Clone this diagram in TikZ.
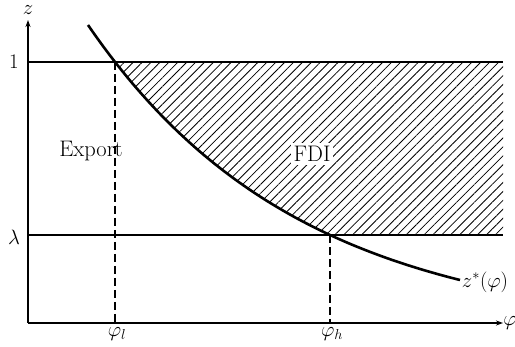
\documentclass[tikz,border=0pt]{standalone}
\usetikzlibrary{arrows.meta,patterns.meta}
\begin{document}
\begin{tikzpicture}[x=1pt,y=-1pt,
  lbl/.style={font=\fontsize{22.5}{27}\selectfont, inner sep=1pt},
  axisline/.style={line width=1.3pt,-{Stealth[length=7pt,width=5pt]}},
  levelline/.style={line width=1.8pt},
  dropline/.style={line width=2.4pt, dash pattern=on 8pt off 4pt},
  curveline/.style={line width=2.6pt}]
\def\zcurve{plot[domain=88:460,samples=80,smooth] (\x,{323-(409*exp(-0.004731*(\x-28))-10)})}
\useasboundingbox (0,0) rectangle (515,347);
\coordinate (O) at (28,323);
\coordinate (ytop) at (28,20);
\coordinate (xend) at (503,323);
\coordinate (oneL) at (28,62);
\coordinate (oneR) at (503,62);
\coordinate (lamL) at (28,235);
\coordinate (lamR) at (503,235);
\coordinate (pl) at (115,62);
\coordinate (plb) at (115,323);
\coordinate (ph) at (330,235);
\coordinate (phb) at (330,323);
% hatched region
\begin{scope}
  \clip (28,62) rectangle (503,235);
  \fill[pattern={Lines[angle=45,distance=6.3pt,line width=0.8pt]}]
    \zcurve -- (520,280) -- (520,0) -- (88,0) -- cycle;
\end{scope}
% level lines
\draw[levelline] (oneL) -- (oneR);
\draw[levelline] (lamL) -- (lamR);
% dashed drops
\draw[dropline] (pl) -- (plb);
\draw[dropline] (ph) -- (phb);
% axes
\draw[axisline] (O) -- (ytop);
\draw[axisline] (O) -- (xend);
% curve
\draw[curveline] \zcurve;
% labels
\node[lbl] (zl) at (28,10) {$z$};
\node[lbl] (phil) at (510,323) {$\varphi$};
\node[lbl] (one) at (14,62) {$1$};
\node[lbl] (lam) at (14,237) {$\lambda$};
\node[lbl] (philab) at (117,334) {$\varphi_l$};
\node[lbl] (phhlab) at (332,334) {$\varphi_h$};
\node[lbl] (zs) at (485,282) {$z^{*}(\varphi)$};
\node[lbl] (exp) at (91,151) {Export};
\node[lbl, fill=white, inner sep=3pt] (fdi) at (312,154) {FDI};
\end{tikzpicture}
\end{document}
